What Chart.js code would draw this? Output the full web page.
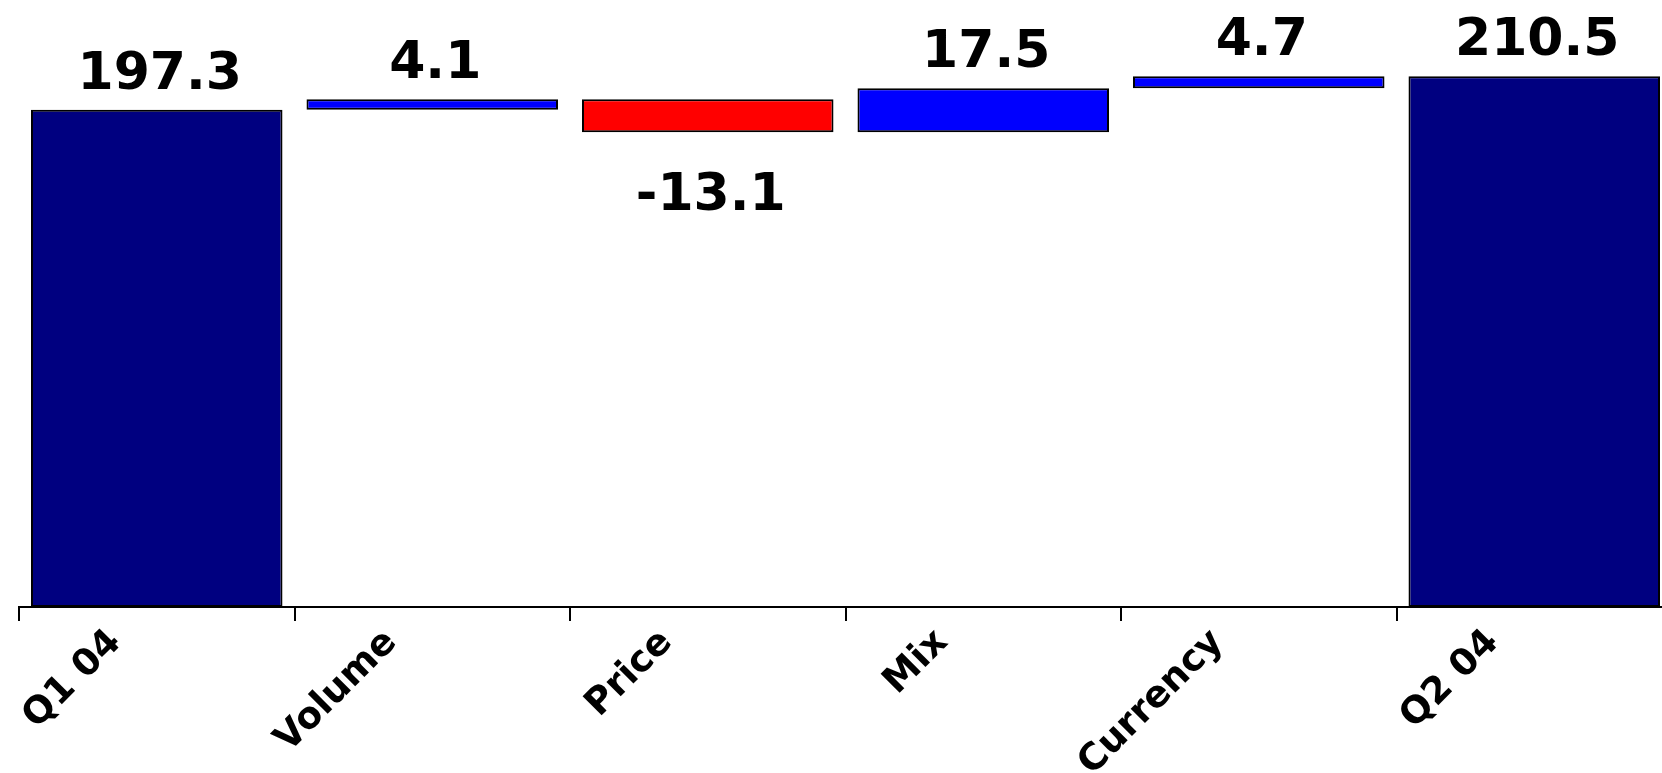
<!DOCTYPE html>
<html>
<head>
<meta charset="utf-8">
<script src="https://cdn.jsdelivr.net/npm/chart.js@4.4.1/dist/chart.umd.min.js"></script>
<style>
  html, body { margin: 0; padding: 0; background: #ffffff; overflow: hidden; }
  #wrap { position: relative; width: 1680px; height: 773px; }
</style>
</head>
<body>
<div id="wrap"><canvas id="chart"></canvas></div>
<script>
// Bridge from Q1 04 revenue to Q2 04 revenue
const categories = ['Q1 04', 'Volume', 'Price', 'Mix', 'Currency', 'Q2 04'];
const amounts    = [197.3, 4.1, -13.1, 17.5, 4.7, 210.5];
const barKinds   = ['total', 'step', 'step', 'step', 'step', 'total'];

const kindColors = { total: '#000080', up: '#0000FF', down: '#FF0000' };

// Floating ranges: totals stand on zero, steps start where the running total left off
const ranges = [];
const fills = [];
let running = 0;
amounts.forEach((v, i) => {
  if (barKinds[i] === 'total') {
    ranges.push([0, v]);
    running = v;
    fills.push(kindColors.total);
  } else {
    const start = running;
    running = +(running + v).toFixed(1);
    ranges.push([start, running]);
    fills.push(v >= 0 ? kindColors.up : kindColors.down);
  }
});

const FONT = '"DejaVu Sans", Verdana, sans-serif';

// Value captions: above rising bars, below falling ones
const valueCaptions = {
  id: 'valueCaptions',
  afterDatasetsDraw(chart) {
    const ctx = chart.ctx;
    const meta = chart.getDatasetMeta(0);
    ctx.save();
    ctx.font = 'bold 52px ' + FONT;
    ctx.fillStyle = '#000000';
    ctx.textAlign = 'center';
    ctx.textBaseline = 'alphabetic';
    meta.data.forEach((bar, i) => {
      const v = amounts[i];
      const top = Math.min(bar.y, bar.base);
      const bottom = Math.max(bar.y, bar.base);
      const text = v.toFixed(1);
      if (v >= 0) {
        ctx.fillText(text, bar.x + 3, top - 21);
      } else {
        ctx.fillText(text, bar.x + 3, bottom + 78);
      }
    });
    ctx.restore();
  }
};

new Chart(document.getElementById('chart'), {
  type: 'bar',
  data: {
    labels: categories,
    datasets: [{
      data: ranges,
      backgroundColor: fills,
      borderColor: '#000000',
      borderWidth: 2,
      borderSkipped: false,
      categoryPercentage: 1.0,
      barPercentage: 0.913
    }]
  },
  options: {
    responsive: true,
    maintainAspectRatio: false,
    animation: false,
    layout: { padding: { left: 19, right: 8, top: 2, bottom: 0 } },
    plugins: {
      legend: { display: false },
      tooltip: { enabled: false }
    },
    scales: {
      x: {
        offset: true,
        grid: {
          offset: true,
          drawOnChartArea: false,
          drawTicks: true,
          tickLength: 14,
          color: '#000000',
          lineWidth: 2
        },
        border: { display: true, color: '#000000', width: 2 },
        ticks: {
          minRotation: 45,
          maxRotation: 45,
          autoSkip: false,
          labelOffset: -41,
          padding: 0,
          color: '#000000',
          font: { family: FONT, size: 37, weight: 'bold' }
        },
        afterFit(scale) { scale.height = 166; }
      },
      y: {
        display: false,
        min: 0,
        max: 240
      }
    }
  },
  plugins: [valueCaptions]
});
</script>
</body>
</html>
